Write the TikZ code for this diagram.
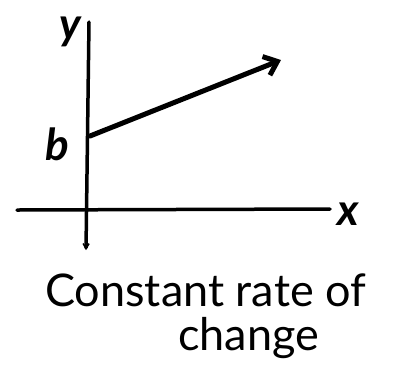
\documentclass[tikz,border=0pt]{standalone}
\usepackage{fontspec}
\setmainfont{Lato}
\usetikzlibrary{arrows.meta}
\begin{document}
\begin{tikzpicture}[x=1pt,y=-1pt,
  axis/.style={line width=3.5pt,line cap=round},
  slope/.style={line width=5pt,line cap=round,-{Straight Barb[length=12pt,width=20pt,line width=5pt]}},
  lab/.style={font=\fontsize{44}{44}\selectfont\bfseries\itshape},
  caption/.style={font=\fontsize{45}{45}\selectfont,anchor=base west,inner sep=0pt}]
\useasboundingbox (0,0) rectangle (398,365);
\fill[white] (0,0) rectangle (398,365);
\coordinate (ytop) at (89,22);
\coordinate (ybot) at (86,250);
\coordinate (xl) at (17,210);
\coordinate (xr) at (330,209);
\coordinate (b0) at (90,136);
\coordinate (tip) at (281,60);
\draw[axis,-{Straight Barb[length=5pt,width=6pt,line width=1.5pt]}] (ytop) -- (ybot);
\draw[axis] (xl) -- (xr);
\draw[slope] (b0) -- (tip);
\node[lab] (ylab) at (70,32) {y};
\node[lab] (xlab) at (348,214) {x};
\node[lab] (blab) at (57,144) {b};
\node[caption] (cap1) at (45,306) {Constant rate of};
\node[caption] (cap2) at (178,350) {change};
\end{tikzpicture}
\end{document}
